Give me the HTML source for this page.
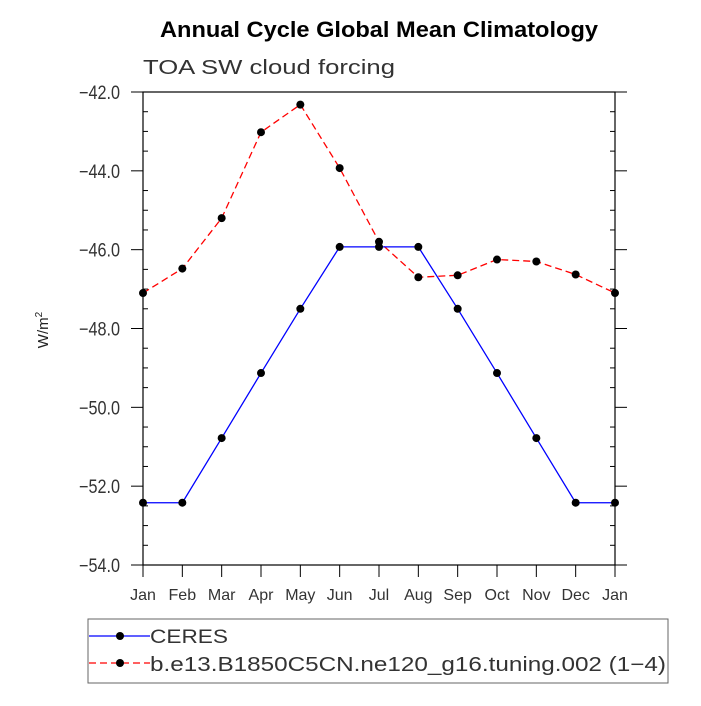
<!DOCTYPE html>
<html><head><meta charset="utf-8"><style>
body{margin:0;background:#fff}
svg text{font-family:"Liberation Sans",sans-serif}
</style></head><body>
<svg id="c" width="701" height="701" xmlns="http://www.w3.org/2000/svg">
<text x="160" y="37" textLength="438" lengthAdjust="spacingAndGlyphs" font-size="22" font-weight="bold">Annual Cycle Global Mean Climatology</text>
<text x="143" y="74" textLength="252" lengthAdjust="spacingAndGlyphs" font-size="20" fill="#333">TOA SW cloud forcing</text>
<text transform="translate(48,330) rotate(-90)" text-anchor="middle" font-size="15" fill="#222">W/m<tspan dy="-6" font-size="10">2</tspan></text>
<g id="g"></g>
<rect x="88" y="619" width="580" height="64" fill="none" stroke="#666" stroke-width="1"/>
<g>
<line x1="89" y1="636" x2="150" y2="636" stroke="#00f" stroke-width="1.3"/><circle cx="120" cy="636" r="4"/>
<text x="150" y="643" textLength="78" lengthAdjust="spacingAndGlyphs" font-size="19" fill="#333">CERES</text></g>
<g>
<line x1="89" y1="663" x2="150" y2="663" stroke="#f00" stroke-width="1.3" stroke-dasharray="7,4"/><circle cx="120" cy="663" r="4"/>
<text x="150" y="671" textLength="516" lengthAdjust="spacingAndGlyphs" font-size="20" fill="#333">b.e13.B1850C5CN.ne120_g16.tuning.002 (1−4)</text></g>
</svg>
<script>
const months=["Jan","Feb","Mar","Apr","May","Jun","Jul","Aug","Sep","Oct","Nov","Dec","Jan"];
const ceres=[-52.42,-52.42,-50.78,-49.13,-47.5,-45.93,-45.93,-45.93,-47.5,-49.13,-50.78,-52.42,-52.42];
const model=[-47.1,-46.48,-45.2,-43.02,-42.32,-43.93,-45.8,-46.7,-46.65,-46.25,-46.3,-46.63,-47.1];
const yTicks=[-42,-44,-46,-48,-50,-52,-54];
const X0=143,X1=615,Y0=92,Y1=565,ymin=-54,ymax=-42;
const xs=i=>X0+(X1-X0)*i/(months.length-1);
const ys=v=>Y1-(Y1-Y0)*(v-ymin)/(ymax-ymin);
const ns="http://www.w3.org/2000/svg",g=document.getElementById('g');
function mk(t,a){const e=document.createElementNS(ns,t);for(const k in a)e.setAttribute(k,a[k]);g.appendChild(e);return e;}
const fr=mk('rect',{x:X0,y:Y0,width:X1-X0,height:Y1-Y0,fill:'none',stroke:'#000','stroke-width':1.2});


for(let v=ymin;v<=ymax+1e-9;v+=0.5){const maj=Math.abs(v/2-Math.round(v/2))<1e-9;const y=ys(v);
 const l=mk('line',{x1:X0-(maj?12:0),x2:X0+(maj?0:5),y1:y,y2:y,stroke:'#000'});
 
 
 const r=mk('line',{x1:X1+(maj?12:0),x2:X1-(maj?0:5),y1:y,y2:y,stroke:'#000'});
 
 }
yTicks.forEach(v=>{const t=mk('text',{x:79,y:ys(v)+7,textLength:41,lengthAdjust:'spacingAndGlyphs','font-size':19,fill:'#333'});t.textContent=(v<0?'−':'')+Math.abs(v).toFixed(1);
 
 });
months.forEach((m,i)=>{const x=xs(i);const l=mk('line',{x1:x,x2:x,y1:Y1,y2:Y1+12,stroke:'#000'});
 
 
 const t=mk('text',{x:x,y:Y1+35,'text-anchor':'middle','font-size':16,fill:'#333'});t.textContent=m;
 
 });
function series(arr,col,dash,name){const p=mk('polyline',{points:arr.map((v,i)=>xs(i)+','+ys(v)).join(' '),fill:'none',stroke:col,'stroke-width':1.3,'stroke-dasharray':dash});
 
 
 arr.forEach((v,i)=>{const c=mk('circle',{cx:xs(i),cy:ys(v),r:4});
 
 });}
series(model,'#f00','7,4','model');
series(ceres,'#00f','none','ceres');
</script>
</body></html>
